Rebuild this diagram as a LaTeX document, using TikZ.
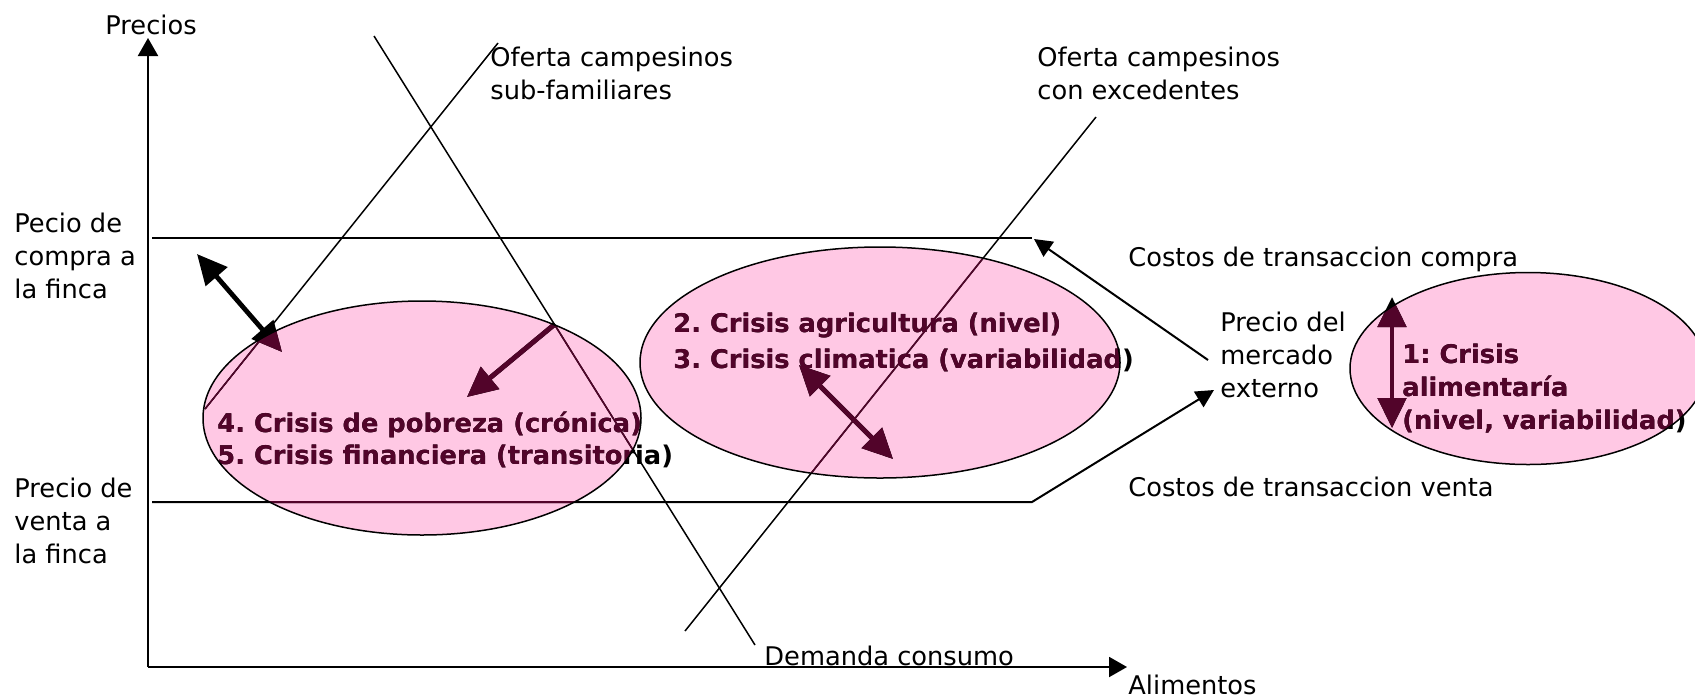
\documentclass[tikz,border=0pt]{standalone}
\usepackage{fontspec}
\setmainfont{DejaVu Sans}
\usetikzlibrary{arrows.meta}
\definecolor{pinkfill}{RGB}{255,200,228}
\definecolor{crisis}{RGB}{82,4,42}
\colorlet{fg}{black}
\tikzset{
  lbl/.style={anchor=base west, inner sep=0pt, align=left, text=fg,
    font=\fontsize{12.85}{16.5}\selectfont\frenchspacing},
  curve/.style={draw=fg, line width=0.75pt},
  hline/.style={draw=fg, line width=1pt},
  thinarrow/.style={draw=fg, line width=1pt, -{Triangle[length=9pt,width=9pt]}},
  axisarrow/.style={draw=fg, line width=1pt, -{Triangle[length=9pt,width=10pt]}},
  boldarrow/.style={draw=fg, line width=2.4pt,
    {Triangle[length=15pt,width=14pt]}-{Triangle[length=15pt,width=14pt]}},
  boldone/.style={draw=fg, line width=2.4pt, -{Triangle[length=15pt,width=14pt]}},
  ellfill/.style={fill=pinkfill},
  elldraw/.style={draw=black, line width=0.75pt},
}
% all foreground items; drawn black, then redrawn in the crisis colour inside each ellipse
\newcommand\fgcontent{%
  \draw[axisarrow] (O) -- (ytip);
  \draw[axisarrow] (O) -- (xtip);
  \draw[hline] (compraL) -- (compraR);
  \draw[thinarrow] (ventaL) -- (ventaR) -- (extIn);
  \draw[thinarrow] (extOut) -- (compraTip);
  \draw[curve] (demA) -- (demB);
  \draw[curve] (supA) -- (supB);
  \draw[curve] (supC) -- (supD);
  \draw[boldarrow] (a1) -- (a2);
  \draw[boldone] (a3) -- (a4);
  \draw[boldarrow] (a5) -- (a6);
  \draw[boldarrow] (a7) -- (a8);
  \node[lbl] (precios) at (105,34) {Precios};
  \node[lbl] (compra) at (14,298) {Pecio de\\compra a\\la finca};
  \node[lbl] (venta) at (14,563) {Precio de\\venta a\\la finca};
  \node[lbl] (ofsub) at (490,99) {Oferta campesinos\\sub-familiares};
  \node[lbl] (ofexc) at (1037,99) {Oferta campesinos\\con excedentes};
  \node[lbl] (ctc) at (1128,266) {Costos de transaccion compra};
  \node[lbl] (ctv) at (1128,496) {Costos de transaccion venta};
  \node[lbl] (mkt) at (1220,397) {Precio del\\mercado\\externo};
  \node[lbl] (dem) at (764,665) {Demanda consumo};
  \node[lbl] (alim) at (1128,694) {Alimentos};
  \node[lbl, font=\fontsize{12.85}{18}\selectfont\bfseries\frenchspacing] (c23) at (673,368)
    {2. Crisis agricultura (nivel)\\3. Crisis climatica (variabilidad)};
  \node[lbl, font=\fontsize{12.85}{16}\selectfont\bfseries\frenchspacing] (c45) at (217,464)
    {4. Crisis de pobreza (crónica)\\5. Crisis financiera (transitoria)};
  \node[lbl, font=\fontsize{12.85}{16.5}\selectfont\bfseries\frenchspacing] (c1) at (1402,429)
    {1: Crisis\\alimentaría\\(nivel, variabilidad)};
}
\begin{document}
\begin{tikzpicture}[x=0.5pt, y=-0.5pt]
  \useasboundingbox (0,0) rectangle (1695,697);
  % coordinates
  \coordinate (O) at (148,667);
  \coordinate (ytip) at (148,38);
  \coordinate (xtip) at (1127,667);
  \coordinate (compraL) at (152,238);
  \coordinate (compraR) at (1032,238);
  \coordinate (compraTip) at (1034,239);
  \coordinate (ventaL) at (152,502);
  \coordinate (ventaR) at (1032,502);
  \coordinate (extIn) at (1214,390);
  \coordinate (extOut) at (1208,360);
  \coordinate (demA) at (374,36);
  \coordinate (demB) at (755,645);
  \coordinate (supA) at (205,409);
  \coordinate (supB) at (498,43);
  \coordinate (supC) at (685,631);
  \coordinate (supD) at (1096,117);
  \coordinate (a1) at (197,254);
  \coordinate (a2) at (282,352);
  \coordinate (a3) at (555,324);
  \coordinate (a4) at (467,397);
  \coordinate (a5) at (799,365);
  \coordinate (a6) at (893,459);
  \coordinate (a7) at (1392,297);
  \coordinate (a8) at (1392,428);
  \coordinate (eL) at (422,418);
  \coordinate (eM) at (880,362.5);
  \coordinate (eR) at (1528,368.5);
  % ellipse fills
  \fill[ellfill] (eL) ellipse [x radius=109.5pt, y radius=58.5pt];
  \fill[ellfill] (eM) ellipse [x radius=120pt, y radius=57.75pt];
  \fill[ellfill] (eR) ellipse [x radius=89pt, y radius=48pt];
  % foreground in black
  \fgcontent
  % foreground recoloured inside the ellipses
  \begin{scope}
    \colorlet{fg}{crisis}
    \clip (eL) ellipse [x radius=109.5pt, y radius=58.5pt];
    \fgcontent
  \end{scope}
  \begin{scope}
    \colorlet{fg}{crisis}
    \clip (eM) ellipse [x radius=120pt, y radius=57.75pt];
    \fgcontent
  \end{scope}
  \begin{scope}
    \colorlet{fg}{crisis}
    \clip (eR) ellipse [x radius=89pt, y radius=48pt];
    \fgcontent
  \end{scope}
  % ellipse outlines
  \draw[elldraw] (eL) ellipse [x radius=109.5pt, y radius=58.5pt];
  \draw[elldraw] (eM) ellipse [x radius=120pt, y radius=57.75pt];
  \draw[elldraw] (eR) ellipse [x radius=89pt, y radius=48pt];
\end{tikzpicture}
\end{document}
